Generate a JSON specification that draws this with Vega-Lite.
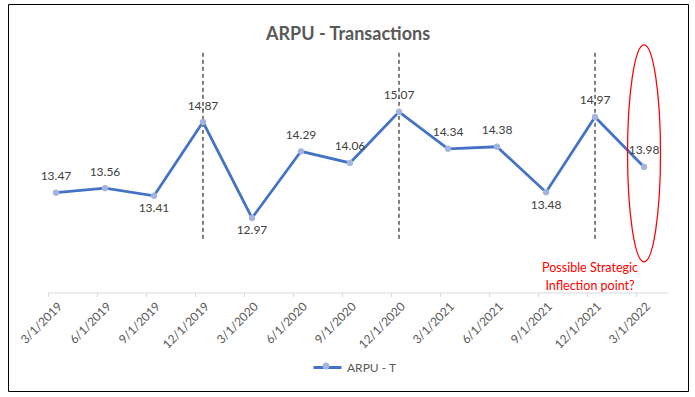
{
  "$schema": "https://vega.github.io/schema/vega-lite/v6.json",
  "width": 680,
  "height": 387,
  "autosize": {"type": "none"},
  "padding": {"left": 8, "top": 4, "right": 7, "bottom": 6},
  "background": "white",
  "config": {"view": {"stroke": "#000000", "strokeWidth": 1}, "font": "Lato"},
  "title": {"text": "ARPU - Transactions", "fontSize": 18, "fontWeight": "bold", "color": "#595959", "font": "Lato", "offset": -40, "anchor": "middle", "frame": "group"},
  "data": {"values": [
    {"date": "3/1/2019", "arpu": 13.47, "series": "ARPU - T"},
    {"date": "6/1/2019", "arpu": 13.56, "series": "ARPU - T"},
    {"date": "9/1/2019", "arpu": 13.41, "series": "ARPU - T"},
    {"date": "12/1/2019", "arpu": 14.87, "series": "ARPU - T"},
    {"date": "3/1/2020", "arpu": 12.97, "series": "ARPU - T"},
    {"date": "6/1/2020", "arpu": 14.29, "series": "ARPU - T"},
    {"date": "9/1/2020", "arpu": 14.06, "series": "ARPU - T"},
    {"date": "12/1/2020", "arpu": 15.07, "series": "ARPU - T"},
    {"date": "3/1/2021", "arpu": 14.34, "series": "ARPU - T"},
    {"date": "6/1/2021", "arpu": 14.38, "series": "ARPU - T"},
    {"date": "9/1/2021", "arpu": 13.48, "series": "ARPU - T"},
    {"date": "12/1/2021", "arpu": 14.97, "series": "ARPU - T"},
    {"date": "3/1/2022", "arpu": 13.98, "series": "ARPU - T"}
  ]},
  "encoding": {
    "x": {"field": "date", "type": "ordinal", "sort": null,
      "scale": {"type": "point", "domain": ["3/1/2019", "6/1/2019", "9/1/2019", "12/1/2019", "3/1/2020", "6/1/2020", "9/1/2020", "12/1/2020", "3/1/2021", "6/1/2021", "9/1/2021", "12/1/2021", "3/1/2022"], "range": [40, 659], "padding": 0.316, "align": 0.258},
      "axis": {"title": null, "labelAngle": -45, "labelFontSize": 12, "labelColor": "#595959", "labelFont": "Lato",
        "domainColor": "#D9D9D9", "tickColor": "#D9D9D9", "tickSize": 4, "offset": -98.5,
        "tickOffset": -8, "labelOffset": 8, "labelPadding": 4, "grid": false, "labelOverlap": false, "labelFlush": false}}
  },
  "layer": [
    {
      "transform": [{"filter": "indexof(['12/1/2019','12/1/2020','12/1/2021'], datum.date) >= 0"}],
      "mark": {"type": "rule", "color": "#000000", "strokeWidth": 1, "strokeDash": [4, 3]},
      "encoding": {
        "y": {"datum": 16.24, "type": "quantitative", "scale": {"domain": [11.5, 16.5], "range": [288.2, 35.7], "zero": false, "nice": false}, "axis": null},
        "y2": {"datum": 12.5}
      }
    },
    {
      "mark": {"type": "line", "strokeWidth": 2.75},
      "encoding": {
        "y": {"field": "arpu", "type": "quantitative", "axis": null},
        "stroke": {"field": "series", "type": "nominal", "scale": {"range": ["#4472C4"]},
          "legend": {"orient": "none", "legendX": 304, "legendY": 348, "title": null, "symbolType": "stroke", "symbolSize": 784, "symbolStrokeWidth": 3, "labelFontSize": 12, "labelColor": "#595959", "labelFont": "Lato", "padding": 0, "zindex": 0}}
      }
    },
    {
      "mark": {"type": "point", "filled": true, "size": 40, "opacity": 1},
      "encoding": {
        "y": {"field": "arpu", "type": "quantitative", "axis": null},
        "fill": {"field": "series", "type": "nominal", "scale": {"domain": ["ARPU - T"], "range": ["#A5B4DF"]},
          "legend": {"orient": "none", "legendX": 304, "legendY": 348, "title": null, "symbolType": "M0.25,0 C0.25,0.138 0.138,0.25 0,0.25 C-0.138,0.25 -0.25,0.138 -0.25,0 C-0.25,-0.138 -0.138,-0.25 0,-0.25 C0.138,-0.25 0.25,-0.138 0.25,0 Z", "symbolSize": 784, "symbolStrokeWidth": 0, "labelExpr": "''", "labelFontSize": 12, "padding": 0, "zindex": 1}}
      }
    },
    {
      "transform": [{"filter": "indexof(['9/1/2019','3/1/2020','9/1/2021'], datum.date) < 0"}],
      "mark": {"type": "text", "dy": -16.5, "fontSize": 12, "color": "#404040", "font": "Lato"},
      "encoding": {
        "y": {"field": "arpu", "type": "quantitative", "axis": null},
        "text": {"field": "arpu", "type": "quantitative", "format": ".2f"}
      }
    },
    {
      "transform": [{"filter": "indexof(['9/1/2019','3/1/2020','9/1/2021'], datum.date) >= 0"}],
      "mark": {"type": "text", "dy": 12.5, "fontSize": 12, "color": "#404040", "font": "Lato"},
      "encoding": {
        "y": {"field": "arpu", "type": "quantitative", "axis": null},
        "text": {"field": "arpu", "type": "quantitative", "format": ".2f"}
      }
    },
    {
      "transform": [{"filter": "datum.date == '3/1/2022'"}],
      "mark": {"type": "point", "shape": "M0,-1 C0.084,-1 0.152,-0.5523 0.152,0 C0.152,0.5523 0.084,1 0,1 C-0.084,1 -0.152,0.5523 -0.152,0 C-0.152,-0.5523 -0.084,-1 0,-1 Z", "size": 47089, "filled": false, "stroke": "#FF0000", "strokeWidth": 1.25, "opacity": 1},
      "encoding": {
        "y": {"datum": 14.25, "type": "quantitative"}
      }
    },
    {
      "transform": [{"filter": "datum.date == '12/1/2021'"}],
      "mark": {"type": "text", "text": ["Possible Strategic", "Inflection point?"], "align": "center", "baseline": "middle", "dx": -5, "lineHeight": 18, "fontSize": 12.5, "color": "#FF0000", "font": "Lato"},
      "encoding": {
        "y": {"datum": 11.98, "type": "quantitative"}
      }
    }
  ]
}
